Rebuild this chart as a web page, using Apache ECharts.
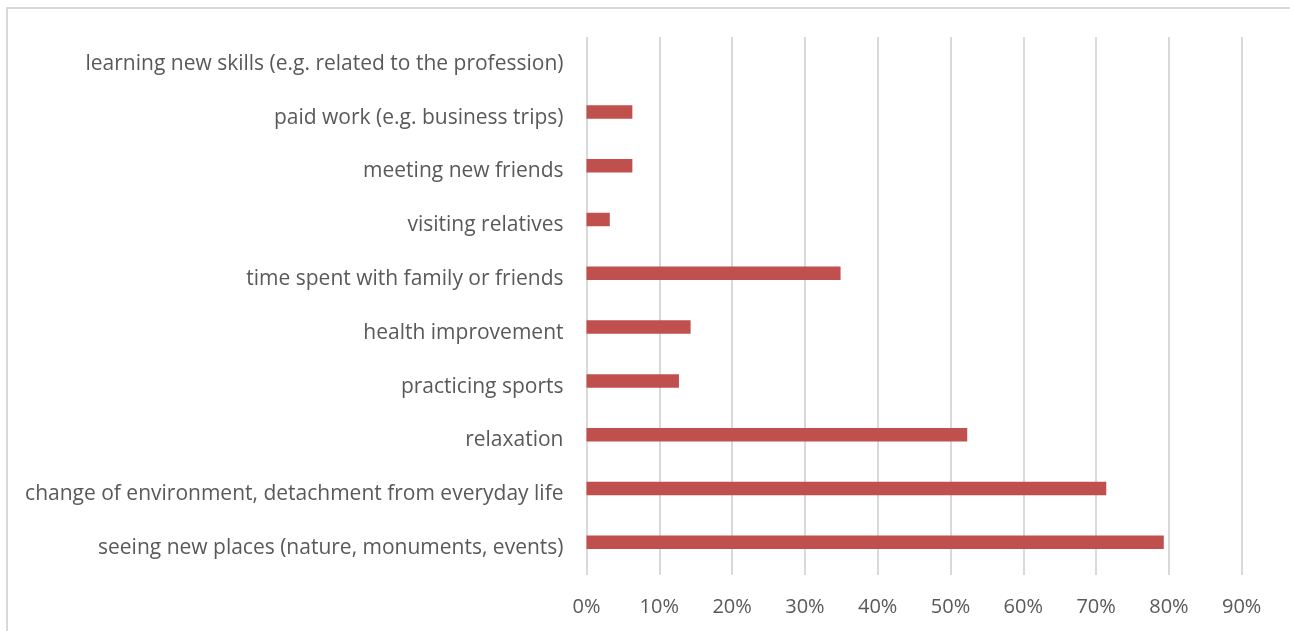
<!DOCTYPE html>
<html>
<head>
<meta charset="utf-8">
<script src="https://cdn.jsdelivr.net/npm/echarts@6/dist/echarts.min.js"></script>
<style>
  html, body { margin: 0; padding: 0; background: #fff; }
  #frame { position: absolute; left: 6px; top: 7px; width: 1300px; height: 640px; border: 2px solid #d9d9d9; box-sizing: border-box; }
  #chart { position: absolute; left: 0; top: 0; width: 1290px; height: 631px; }
</style>
</head>
<body>
<div id="frame"></div>
<div id="chart"></div>
<script>
// categories, bottom to top (as drawn)
var reasons = [
  "seeing new places (nature, monuments, events)",
  "change of environment, detachment from everyday life",
  "relaxation",
  "practicing sports",
  "health improvement",
  "time spent with family or friends",
  "visiting relatives",
  "meeting new friends",
  "paid work (e.g. business trips)",
  "learning new skills (e.g. related to the profession)"
];
// share of answers, %
var shares = [79.3, 71.4, 52.3, 12.7, 14.3, 34.9, 3.2, 6.3, 6.3, 0];
var emptySlot = reasons.map(function () { return null; });

var chart = echarts.init(document.getElementById("chart"));
var option = {
  animation: false,
  grid: { left: 586.5, right: 48.3, top: 37, bottom: 56, containLabel: false },
  xAxis: {
    type: "value",
    min: 0,
    max: 90,
    interval: 10,
    axisLine: { show: false },
    axisTick: { show: false },
    splitLine: { lineStyle: { color: "#d9d9d9", width: 2 } },
    axisLabel: {
      formatter: "{value}%",
      color: "#595959",
      fontFamily: "Open Sans",
      fontSize: 20,
      margin: 22
    }
  },
  yAxis: {
    type: "category",
    data: reasons,
    axisLine: { show: false },
    axisTick: { show: false },
    axisLabel: {
      color: "#595959",
      fontFamily: "Open Sans",
      fontSize: 21,
      margin: 23
    }
  },
  series: [
    {
      type: "bar",
      data: shares,
      barWidth: 13.5,
      barGap: "-14%",
      itemStyle: { color: "#c0504d" }
    },
    {
      // empty slot, as in the source chart, pushes the bars off-centre
      type: "bar",
      data: emptySlot,
      barWidth: 13.5,
      barGap: "-14%"
    }
  ]
};
chart.setOption(option);
</script>
</body>
</html>
